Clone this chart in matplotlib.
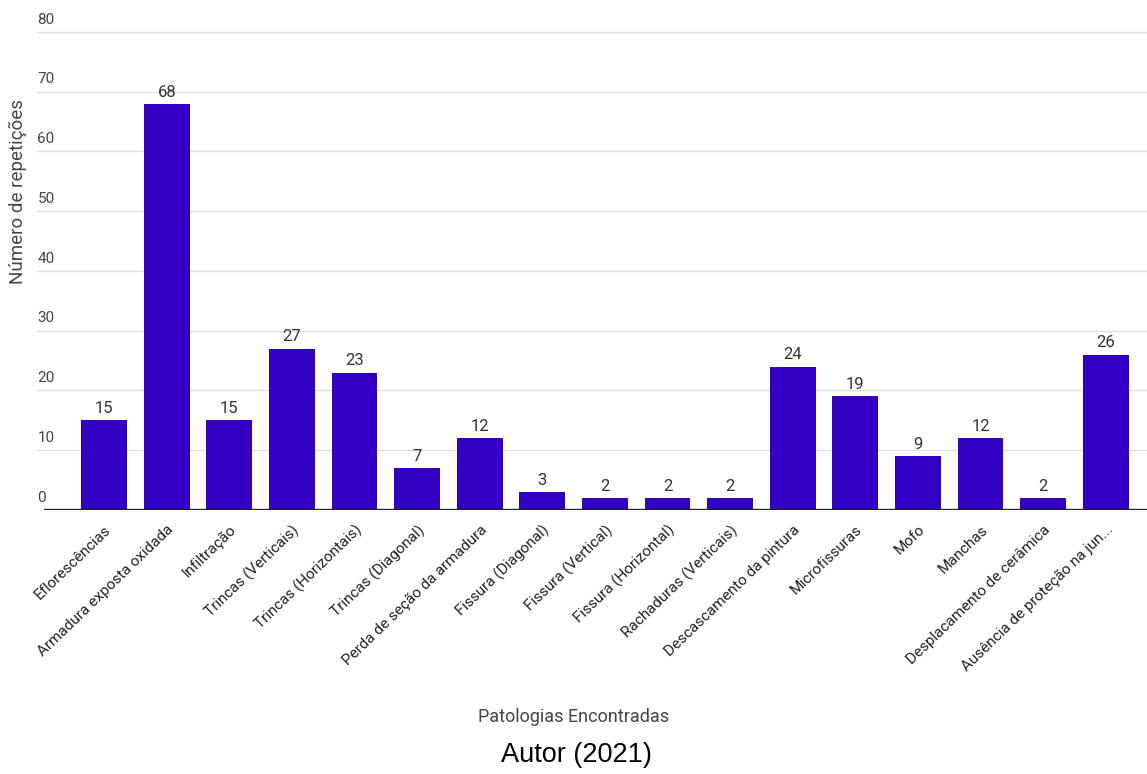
import matplotlib.pyplot as plt
import matplotlib.transforms as mtransforms

plt.rcParams['font.family'] = ['Roboto', 'DejaVu Sans']

patologias = [
    "Eflorescências", "Armadura exposta oxidada", "Infiltração",
    "Trincas (Verticais)", "Trincas (Horizontais)", "Trincas (Diagonal)",
    "Perda de seção da armadura", "Fissura (Diagonal)", "Fissura (Vertical)",
    "Fissura (Horizontal)", "Rachaduras (Verticais)", "Descascamento da pintura",
    "Microfissuras", "Mofo", "Manchas", "Desplacamento de cerâmica",
    "Ausência de proteção na jun...",
]
repeticoes = [15, 68, 15, 27, 23, 7, 12, 3, 2, 2, 2, 24, 19, 9, 12, 2, 26]
y_ticks = [0, 10, 20, 30, 40, 50, 60, 70, 80]

BAR_COLOR = "#3300c4"

fig = plt.figure(figsize=(11.47, 7.74), dpi=100)
ax = fig.add_axes([44 / 1147, 1 - 510 / 774, (1147 - 44) / 1147, (510 - 32) / 774])

x = list(range(len(patologias)))
ax.bar(x, repeticoes, width=0.73, color=BAR_COLOR, zorder=3)

ax.set_xlim(-0.96, 16.66)
ax.set_ylim(0, 80)

# gridlines with the labels sitting above them (Google Charts look)
for v in y_ticks:
    if v == 0:
        ax.axhline(v, color="#222222", lw=2.4, zorder=4)
    else:
        ax.axhline(v, xmin=-0.006, color="#dddddd", lw=1.0, zorder=1, clip_on=False)
trans = mtransforms.blended_transform_factory(ax.transAxes, ax.transData)
for v in y_ticks:
    ax.text(-0.006, v + 0.9, str(v), transform=trans, ha="left", va="bottom",
            fontsize=11, color="#444444", clip_on=False)

ax.set_yticks([])
for s in ax.spines.values():
    s.set_visible(False)

# value labels on the bars
for xi, v in zip(x, repeticoes):
    ax.text(xi, v + 0.7, str(v), ha="center", va="bottom", fontsize=12,
            color="#333333")

ax.set_xticks(x)
ax.set_xticklabels(patologias, rotation=44, ha="right", rotation_mode="anchor",
                   fontsize=11, color="#222222")
ax.tick_params(axis="x", length=0, pad=9)

fig.text(18 / 1147, 1 - 192 / 774, "Número de repetições", rotation=90,
         ha="center", va="center", fontsize=13.5, color="#444444")
fig.text(574 / 1147, 1 - 717 / 774, "Patologias Encontradas", ha="center",
         va="center", fontsize=13, color="#444444")
fig.text(576 / 1147, 1 - 755 / 774, "Autor (2021)", ha="center", va="center",
         fontsize=19.5, color="black", family=["Liberation Sans", "DejaVu Sans"])

fig.savefig("out.png", dpi=100)
